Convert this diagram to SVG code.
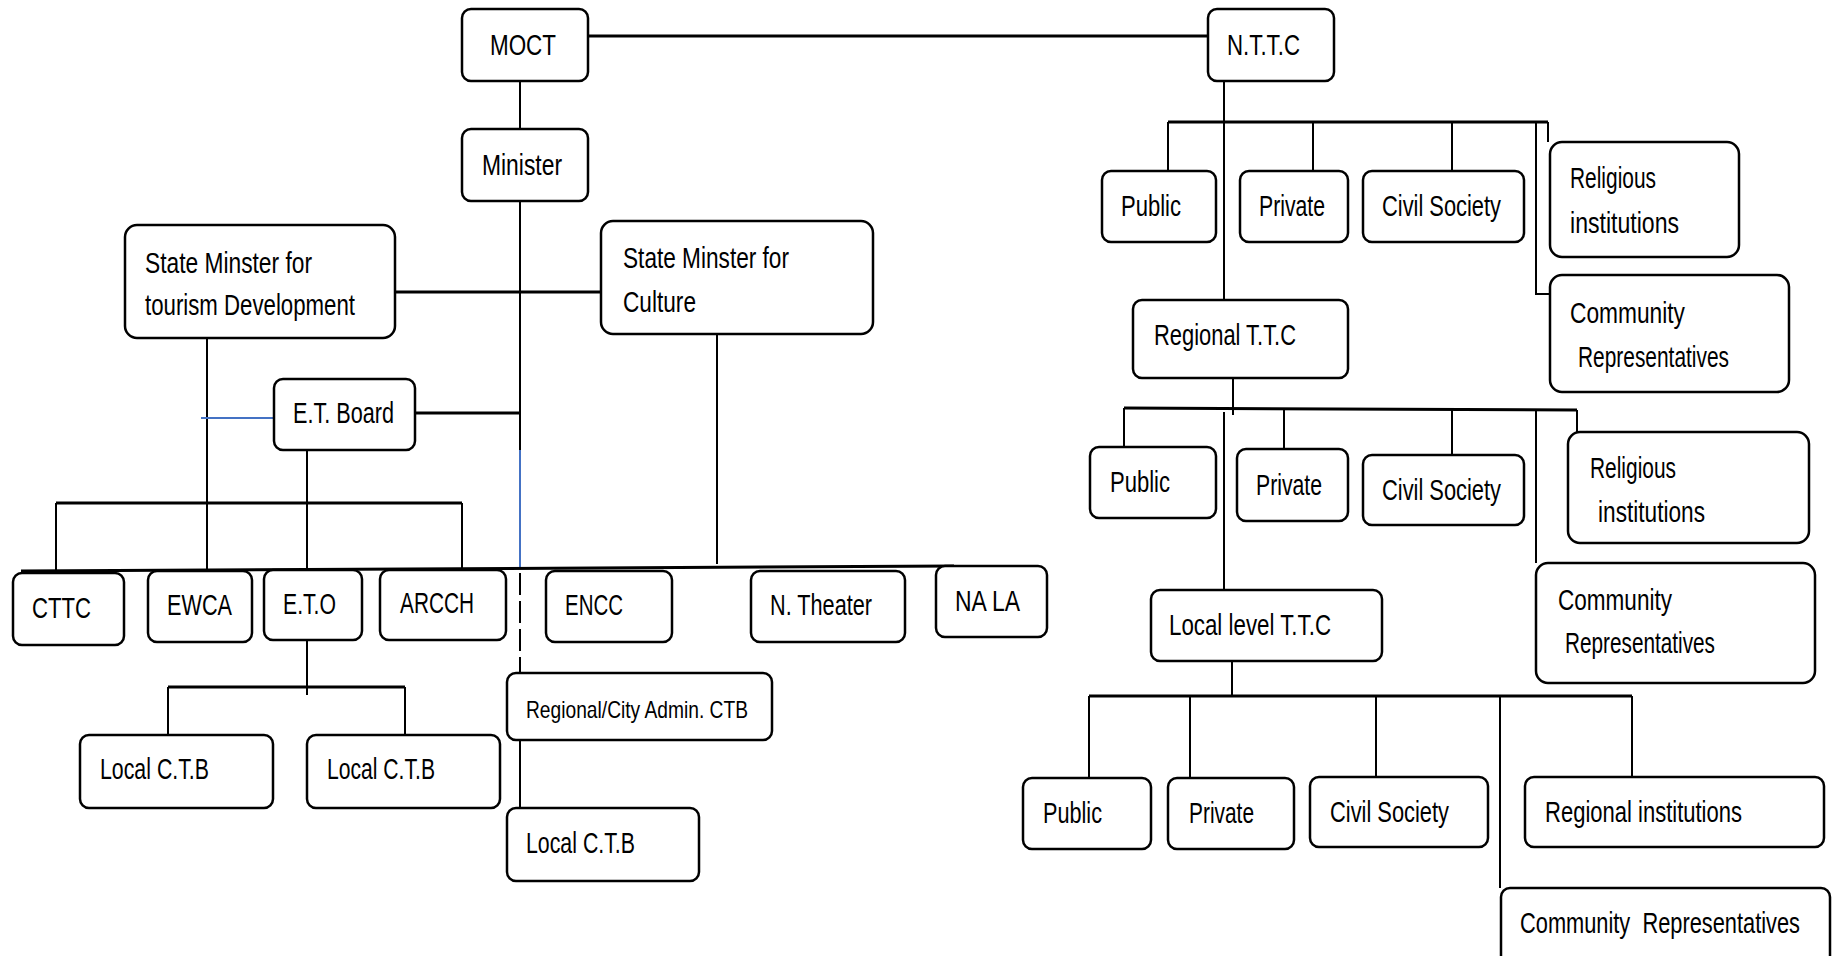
<svg xmlns="http://www.w3.org/2000/svg" width="1833" height="956" viewBox="0 0 1833 956">
<style>
.b{fill:#fff;stroke:#000;stroke-width:2.5}
.t{font-family:"Liberation Sans Narrow","Liberation Sans",sans-serif;font-size:29px;fill:#000}
.s{font-size:24px}
.c{fill:none;stroke:#000;stroke-width:2}
.k{fill:none;stroke:#000;stroke-width:3}
.u{fill:none;stroke:#4472C4;stroke-width:2}
</style>
<rect width="1833" height="956" fill="#fff"/>
<g id="connectors">
<path class="k" d="M588 36H1208"/>
<path class="c" d="M520 81V129M520 201V450"/>
<path class="u" d="M520 450V567"/>
<path class="k" d="M395 292H601"/>
<path class="c" d="M207 338V570M717 334V564"/>
<path class="u" d="M201 418H280"/>
<path class="k" d="M415 413H520"/>
<path class="c" d="M307 450V570"/>
<path class="k" d="M56 503H462"/>
<path class="c" d="M56 503V573M462 503V570"/>
<path class="k" d="M21 571L954 566"/>
<path class="c" d="M520 573V673" stroke-dasharray="22 6"/>
<path class="c" d="M307 640V695"/>
<path class="k" d="M168 687H405"/>
<path class="c" d="M168 687V735M405 687V735M520 740V808"/>
<path class="c" d="M1224 81V300"/>
<path class="k" d="M1168 122H1548"/>
<path class="c" d="M1168 122V171M1313 122V171M1452 122V171M1548 122V142M1536 122V294H1550"/>
<path class="c" d="M1233 378V415"/>
<path class="k" d="M1124 408L1577 410"/>
<path class="c" d="M1124 408V447M1284 408V449M1452 410V455M1577 410V432M1536 409V563M1224 412V590"/>
<path class="c" d="M1232 661V696"/>
<path class="k" d="M1089 696H1632"/>
<path class="c" d="M1089 696V778M1190 696V778M1376 696V777M1500 696V888M1632 696V777"/>
</g>
<g id="moct"><rect class="b" x="462" y="9" width="126" height="72" rx="9"/><text class="t" x="490" y="55" textLength="66" lengthAdjust="spacingAndGlyphs">MOCT</text></g>
<g id="nttc"><rect class="b" x="1208" y="9" width="126" height="72" rx="9"/><text class="t" x="1227" y="55" textLength="73" lengthAdjust="spacingAndGlyphs">N.T.T.C</text></g>
<g id="minister"><rect class="b" x="462" y="129" width="126" height="72" rx="9"/><text class="t" x="482" y="175" textLength="80" lengthAdjust="spacingAndGlyphs">Minister</text></g>
<g id="sm-tourism"><rect class="b" x="125" y="225" width="270" height="113" rx="12"/><text class="t" x="145" y="273" textLength="167" lengthAdjust="spacingAndGlyphs">State Minster for</text><text class="t" x="145" y="315" textLength="210" lengthAdjust="spacingAndGlyphs">tourism Development</text></g>
<g id="sm-culture"><rect class="b" x="601" y="221" width="272" height="113" rx="12"/><text class="t" x="623" y="268" textLength="166" lengthAdjust="spacingAndGlyphs">State Minster for</text><text class="t" x="623" y="312" textLength="73" lengthAdjust="spacingAndGlyphs">Culture</text></g>
<g id="et-board"><rect class="b" x="274" y="379" width="141" height="71" rx="9"/><text class="t" x="293" y="423" textLength="101" lengthAdjust="spacingAndGlyphs">E.T. Board</text></g>
<g id="cttc"><rect class="b" x="13" y="573" width="111" height="72" rx="9"/><text class="t" x="32" y="618" textLength="59" lengthAdjust="spacingAndGlyphs">CTTC</text></g>
<g id="ewca"><rect class="b" x="148" y="571" width="104" height="71" rx="9"/><text class="t" x="167" y="615" textLength="65" lengthAdjust="spacingAndGlyphs">EWCA</text></g>
<g id="eto"><rect class="b" x="264" y="570" width="98" height="70" rx="9"/><text class="t" x="283" y="614" textLength="53" lengthAdjust="spacingAndGlyphs">E.T.O</text></g>
<g id="arcch"><rect class="b" x="380" y="570" width="126" height="70" rx="9"/><text class="t" x="400" y="613" textLength="74" lengthAdjust="spacingAndGlyphs">ARCCH</text></g>
<g id="encc"><rect class="b" x="546" y="571" width="126" height="71" rx="9"/><text class="t" x="565" y="615" textLength="58" lengthAdjust="spacingAndGlyphs">ENCC</text></g>
<g id="n-theater"><rect class="b" x="751" y="571" width="154" height="71" rx="9"/><text class="t" x="770" y="615" textLength="102" lengthAdjust="spacingAndGlyphs">N. Theater</text></g>
<g id="na-la"><rect class="b" x="936" y="566" width="111" height="71" rx="9"/><text class="t" x="955" y="611" textLength="65" lengthAdjust="spacingAndGlyphs">NA LA</text></g>
<g id="regional-city"><rect class="b" x="507" y="673" width="265" height="67" rx="9"/><text class="t s" x="526" y="718" textLength="222" lengthAdjust="spacingAndGlyphs">Regional/City Admin. CTB</text></g>
<g id="local-ctb-1"><rect class="b" x="80" y="735" width="193" height="73" rx="9"/><text class="t" x="100" y="779" textLength="109" lengthAdjust="spacingAndGlyphs">Local C.T.B</text></g>
<g id="local-ctb-2"><rect class="b" x="307" y="735" width="193" height="73" rx="9"/><text class="t" x="327" y="779" textLength="108" lengthAdjust="spacingAndGlyphs">Local C.T.B</text></g>
<g id="local-ctb-3"><rect class="b" x="507" y="808" width="192" height="73" rx="9"/><text class="t" x="526" y="853" textLength="109" lengthAdjust="spacingAndGlyphs">Local C.T.B</text></g>
<g id="public-1"><rect class="b" x="1102" y="171" width="114" height="71" rx="9"/><text class="t" x="1121" y="216" textLength="60" lengthAdjust="spacingAndGlyphs">Public</text></g>
<g id="private-1"><rect class="b" x="1240" y="171" width="108" height="71" rx="9"/><text class="t" x="1259" y="216" textLength="66" lengthAdjust="spacingAndGlyphs">Private</text></g>
<g id="civil-1"><rect class="b" x="1363" y="171" width="161" height="71" rx="9"/><text class="t" x="1382" y="216" textLength="119" lengthAdjust="spacingAndGlyphs">Civil Society</text></g>
<g id="religious-1"><rect class="b" x="1550" y="142" width="189" height="115" rx="12"/><text class="t" x="1570" y="188" textLength="86" lengthAdjust="spacingAndGlyphs">Religious</text><text class="t" x="1570" y="233" textLength="109" lengthAdjust="spacingAndGlyphs">institutions</text></g>
<g id="community-1"><rect class="b" x="1550" y="275" width="239" height="117" rx="12"/><text class="t" x="1570" y="323" textLength="115" lengthAdjust="spacingAndGlyphs">Community</text><text class="t" x="1578" y="367" textLength="151" lengthAdjust="spacingAndGlyphs">Representatives</text></g>
<g id="regional-ttc"><rect class="b" x="1133" y="300" width="215" height="78" rx="9"/><text class="t" x="1154" y="345" textLength="142" lengthAdjust="spacingAndGlyphs">Regional T.T.C</text></g>
<g id="public-2"><rect class="b" x="1090" y="447" width="126" height="71" rx="9"/><text class="t" x="1110" y="492" textLength="60" lengthAdjust="spacingAndGlyphs">Public</text></g>
<g id="private-2"><rect class="b" x="1237" y="449" width="111" height="72" rx="9"/><text class="t" x="1256" y="495" textLength="66" lengthAdjust="spacingAndGlyphs">Private</text></g>
<g id="civil-2"><rect class="b" x="1363" y="455" width="161" height="70" rx="9"/><text class="t" x="1382" y="500" textLength="119" lengthAdjust="spacingAndGlyphs">Civil Society</text></g>
<g id="religious-2"><rect class="b" x="1568" y="432" width="241" height="111" rx="12"/><text class="t" x="1590" y="478" textLength="86" lengthAdjust="spacingAndGlyphs">Religious</text><text class="t" x="1598" y="522" textLength="107" lengthAdjust="spacingAndGlyphs">institutions</text></g>
<g id="community-2"><rect class="b" x="1536" y="563" width="279" height="120" rx="12"/><text class="t" x="1558" y="610" textLength="114" lengthAdjust="spacingAndGlyphs">Community</text><text class="t" x="1565" y="653" textLength="150" lengthAdjust="spacingAndGlyphs">Representatives</text></g>
<g id="local-ttc"><rect class="b" x="1151" y="590" width="231" height="71" rx="9"/><text class="t" x="1169" y="635" textLength="162" lengthAdjust="spacingAndGlyphs">Local level T.T.C</text></g>
<g id="public-3"><rect class="b" x="1023" y="778" width="128" height="71" rx="9"/><text class="t" x="1043" y="823" textLength="59" lengthAdjust="spacingAndGlyphs">Public</text></g>
<g id="private-3"><rect class="b" x="1168" y="778" width="126" height="71" rx="9"/><text class="t" x="1189" y="823" textLength="65" lengthAdjust="spacingAndGlyphs">Private</text></g>
<g id="civil-3"><rect class="b" x="1310" y="777" width="178" height="70" rx="9"/><text class="t" x="1330" y="822" textLength="119" lengthAdjust="spacingAndGlyphs">Civil Society</text></g>
<g id="regional-inst"><rect class="b" x="1525" y="777" width="299" height="70" rx="9"/><text class="t" x="1545" y="822" textLength="197" lengthAdjust="spacingAndGlyphs">Regional institutions</text></g>
<g id="community-3"><rect class="b" x="1501" y="888" width="329" height="80" rx="9"/><text class="t" x="1520" y="933" textLength="280" lengthAdjust="spacingAndGlyphs" xml:space="preserve">Community  Representatives</text></g>
</svg>
